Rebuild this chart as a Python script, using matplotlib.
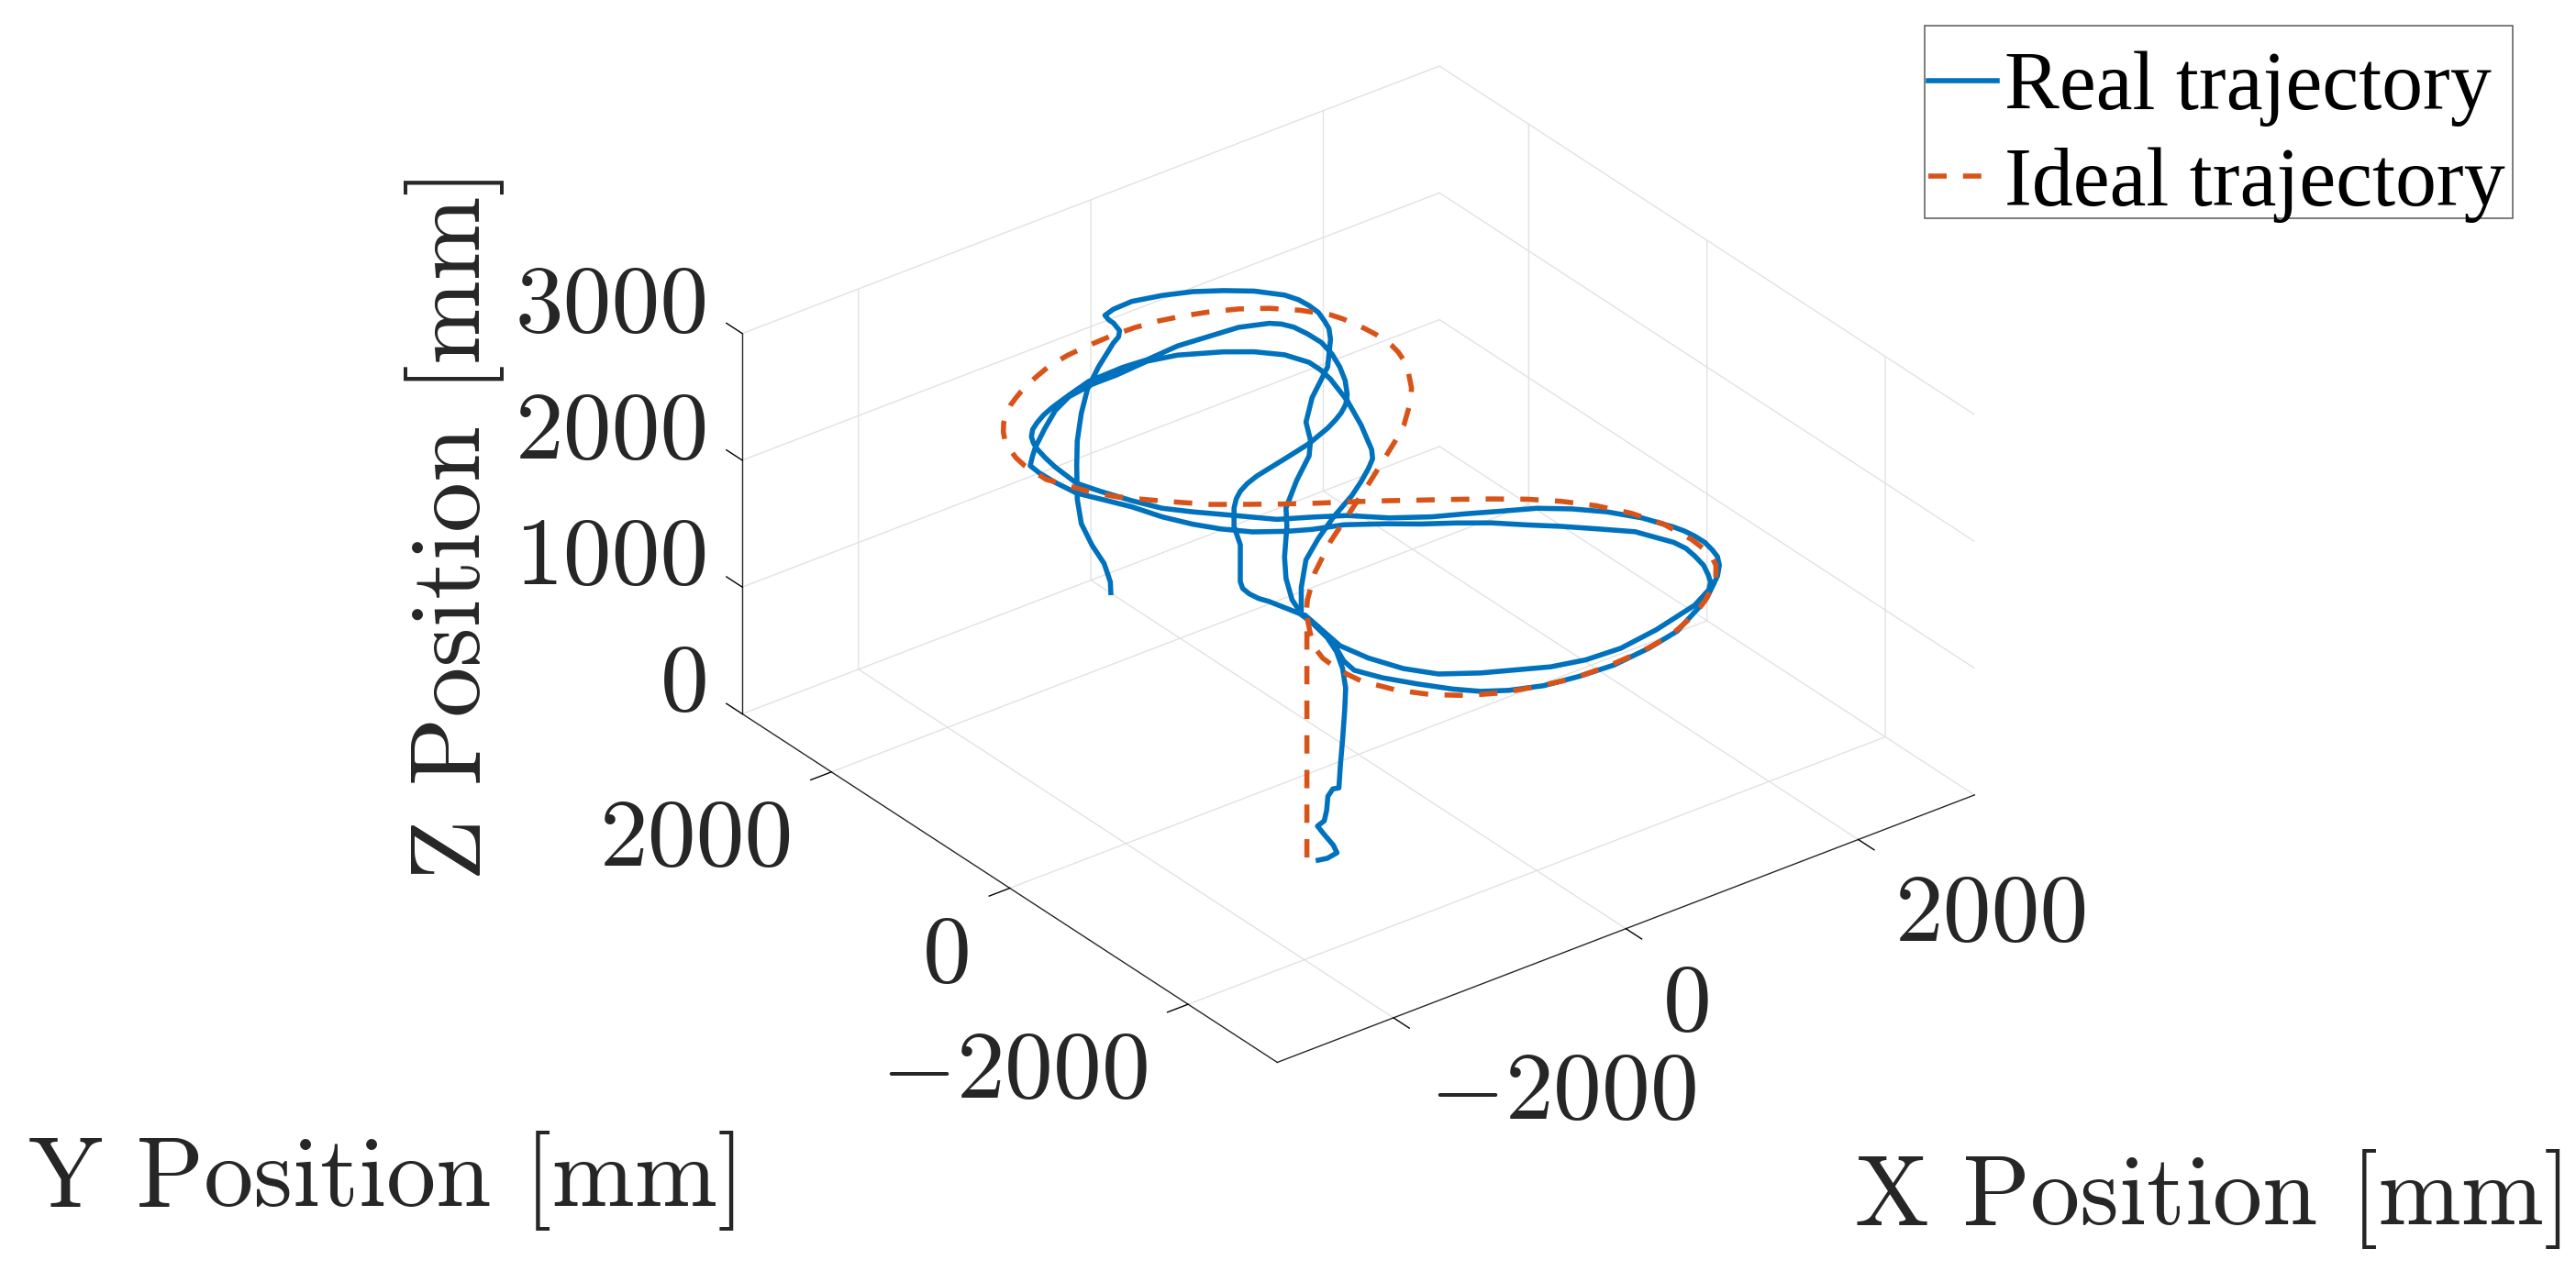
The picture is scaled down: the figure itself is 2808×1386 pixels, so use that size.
import matplotlib
matplotlib.use("Agg")
import matplotlib.pyplot as plt
from matplotlib.patches import Rectangle

plt.rcParams['font.family'] = ['cmr10', 'DejaVu Serif']
plt.rcParams['mathtext.fontset'] = 'cm'
plt.rcParams['axes.unicode_minus'] = False

# ideal trajectory: straight take-off, then the figure of eight at constant height
ideal_x = [-1136, -1136, -1259, -1358, -1396, -1403, -1397, -1377, -1263, -1111, -928, -716, -474, -220, 72, 391, 672, 984,
           1155, 1308, 1417, 1506, 1554, 1575, 1589, 1564, 1481, 1354, 1201, 1029, 841, 647, 451, 256, 57, -146, -343, -536, -727,
           -885, -1030, -1171, -1268, -1342, -1408, -1410, -1392, -1353, -1312, -1246, -1167, -1076, -986, -898, -812, -717,
           -598, -448, -260, -89, 132,
           336, 524, 698, 862, 1053, 1224, 1374, 1501, 1534, 1558, 1574, 1584, 1578, 1557, 1518, 1440, 1330, 1194, 983, 792, 561, 273,
           -56, -385, -723, -994, -1155]
ideal_y = [-903, -903, -1102, -1289, -1419, -1544, -1695, -1827, -2071, -2266, -2421, -2539, -2617, -2680, -2692, -2672, -2622, -2490,
           -2384, -2265, -2162, -2047, -1936, -1836, -1662, -1380, -1134, -906, -712, -543, -395, -253, -115, 23, 158, 289, 426, 569, 714,
           874, 1028, 1187, 1335, 1513, 1667, 1905, 2024, 2151, 2252, 2358, 2457, 2546, 2618, 2674, 2724, 2772,
           2824, 2883, 2923, 2941, 2952,
           2944, 2916, 2868, 2807, 2714, 2594, 2445, 2269, 2174, 2068, 1966, 1863, 1683, 1580, 1467, 1315, 1137, 977, 770, 625, 461, 258,
           35, -188, -456, -724, -916]
ideal_z = [0] + [1900] * (len(ideal_x) - 1)

# real trajectory: the climb first
climb_x = [-1097, -1047, -995, -1015, -1064, -1101, -1064, -1051, -1044, -1018, -985, -976, -965, -953, -948, -965,
           -998, -1047, -1114, -1172]
climb_y = [-979, -1017, -1057, -1042, -1004, -976, -1004, -1014, -1019, -1040, -1065, -1071, -1080, -1089, -1093, -1080,
           -1055, -1017, -966, -922]
climb_z = [0, 15, 58, 118, 202, 269, 310, 394, 504, 562, 570, 757, 948, 1188, 1356, 1513, 1645, 1753, 1849, 1933]

# first lap
lap1_x = [-1134, -1160, -1211, -1306, -1326, -1236, -1098, -950, -817, -657, -428, -161, 123, 454, 748, 1053,
          1190, 1308, 1426, 1525, 1586, 1614, 1636, 1634, 1620, 1595, 1500, 1360, 1194, 1010, 796, 584, 368, 131, -77, -280, -489, -669, -883,
          -1019, -1121, -1211, -1275, -1256, -1233, -1203, -1172, -1131, -1066, -986, -887, -775, -583, -360, -62, 134, 415, 657, 900, 1099,
          1159, 1200, 1218, 1222, 1183, 1118, 1033, 929, 839, 743, 647, 542, 315, 54, -236, -353, -455, -540, -628, -781, -900, -1053, -1206,
          -1250, -1259, -1247, -1215, -1150]
lap1_y = [-880, -1071, -1295, -1538, -1681, -1880, -2091, -2293, -2435, -2541, -2636, -2682, -2704, -2667, -2600, -2439,
          -2359, -2265, -2169, -2061, -1960, -1866, -1752, -1644, -1544, -1457, -1228, -1015, -837, -685, -570, -452, -340, -176, 24, 153, 274, 473, 706,
          872, 1081, 1307, 1498, 1763, 1903, 2037, 2119, 2193, 2264, 2319, 2375, 2422, 2486, 2553, 2563, 2545, 2567, 2541, 2515, 2431,
          2372, 2287, 2157, 2007, 1837, 1666, 1494, 1336, 1235, 1162, 1105, 1052, 963, 898, 829, 786, 732, 666, 576, 377, 151, -48, -247,
          -331, -418, -506, -583, -842]

# second lap
lap2_x = [-1167, -1199, -1148, -1046, -901, -664, -449, -233, 15, 302, 646, 1060, 1264, 1337, 1387, 1439, 1468, 1484, 1468, 1347, 1162,
          992, 815, 642, 451, 252, 64, -172, -383, -532, -726, -873, -986,
          -1090, -1172, -1274, -1357, -1384, -1391, -1380, -1292, -1199, -996, -785, -596, -368, -159, 122, 338, 613, 780,
          920, 990, 989, 966, 878, 750, 603, 532, 435, 278, 113, -165, -426, -671, -926, -1142]
lap2_y = [-1120, -1357, -1607, -1867, -2072, -2236, -2348, -2461, -2531, -2551, -2498, -2391, -2283, -2207, -2114, -1996, -1860, -1740, -1624,
          -1347, -1155, -983, -821, -654, -509, -374, -226, -62, 20, 102, 240, 404, 572,
          778, 1015, 1224, 1391, 1597, 1759, 1882, 1972, 2060, 2221, 2376, 2469, 2507, 2506, 2529, 2468, 2313, 2186,
          2026, 1842, 1712, 1572, 1269, 947, 637, 534, 451, 333, 221, 65, -105, -286, -566, -848]

# last part up to the end point
end_x = [-1077, -932, -762, -494, -346, -58, 212, 348, 476, 713, 1052, 1297, 1378, 1417, 1455, 1462, 1453, 1417, 1285, 1123, 949, 752,
         536, 372, 275, 258, 257, 227, 170, 92, -195, -431, -669, -920, -1127, -1404, -1586, -1706, -1793, -1912, -1999]
end_y = [-660, -403, -165, 158, 361, 616, 829, 990, 1208, 1448, 1716, 2003, 2126, 2227, 2345, 2457, 2566, 2673, 2843, 2976, 3092, 3178,
         3240, 3232, 3201, 3135, 3082, 2974, 2911, 2867, 2664, 2476, 2236, 1954, 1690, 1323, 1040, 764, 515, 290, 171]

real_x = climb_x + lap1_x + lap2_x + end_x
real_y = climb_y + lap1_y + lap2_y + end_y
real_z = climb_z + [1900] * (len(lap1_x) + len(lap2_x) + len(end_x))

xy_ticks = [-2000, 0, 2000]
z_ticks = [0, 1000, 2000, 3000]

W, H = 2808, 1386
fig = plt.figure(figsize=(W / 200, H / 200), dpi=200)
S = 1386
ax = fig.add_axes([769 / W, 59 / H, S / W, S / H], projection='3d', proj_type='ortho')
ax.view_init(elev=30, azim=-127.5)
ax.set_box_aspect((1, 1, 0.5), zoom=1.0065)

ax.plot(real_x, real_y, real_z, color='#0072BD', lw=2.0, solid_joinstyle='round', label='Real trajectory')
ax.plot(ideal_x, ideal_y, ideal_z, color='#D95319', lw=2.0, ls=(0, (3.6, 3.2)), dash_capstyle='butt',
        dash_joinstyle='round', label='Ideal trajectory')

ax.set_xlim(-3000, 3000, view_margin=0)
ax.set_ylim(-3000, 3000, view_margin=0)
ax.set_zlim(0, 3000, view_margin=0)
ax.set_xticks(xy_ticks)
ax.set_yticks(xy_ticks)
ax.set_zticks(z_ticks)
ax.set_xticklabels([])
ax.set_yticklabels([])
ax.set_zticklabels([])

for axis, out in ((ax.xaxis, -0.37), (ax.yaxis, -0.37), (ax.zaxis, 0.37)):
    axis.set_pane_color((1, 1, 1, 0))
    axis.pane.set_edgecolor('none')
    axis.line.set_color('#262626')
    axis.line.set_linewidth(0.5)
    axis._axinfo['grid'].update(color='#e2e2e2', linewidth=0.5)
    axis._axinfo['tick'].update(inward_factor=0, outward_factor=out, color='#404040', linewidth={True: 0.5, False: 0.5})
# z ticks lean along y in the original, not along x
ax.zaxis._get_tickdir = lambda pos: 1


def label(x, y, s, size=38, **kw):
    fig.text(x / W, 1 - y / H, s, color='#262626', fontsize=size, va='center', **kw)


# tick labels, MATLAB puts them at uneven offsets
for tick, y in zip(z_ticks, [749, 611, 473.5, 335.5]):
    label(773, y, str(tick), ha='right')
for s, x, y in [('2000', 865, 918), ('0', 1059, 1045), ('$-$2000', 1251, 1171)]:
    label(x, y, s, ha='right')
for s, x, y in [('$-$2000', 1558, 1194), ('0', 1813, 1098), ('2000', 2066, 1000)]:
    label(x, y, s, ha='left')

label(31, 1288, 'Y Position [mm]', size=39, ha='left')
label(2022, 1308, 'X Position [mm]', size=39, ha='left')
label(495, 572, 'Z Position [mm]', size=39.6, ha='center', rotation=90)

# legend frame is drawn apart, the box is taller than the rows need
fig.add_artist(Rectangle((2098 / W, 1 - 238 / H), 641 / W, 210 / H, transform=fig.transFigure,
                         fc='white', ec='#666666', lw=0.6))
handles, labels = ax.get_legend_handles_labels()
leg = fig.legend(handles, labels, loc='upper left', bbox_to_anchor=(2093 / W, 1 - 47 / H),
                 prop={'family': 'Liberation Serif', 'size': 32.3}, frameon=False, borderpad=0.1, borderaxespad=0,
                 handlelength=0.84, handletextpad=0.08, labelspacing=0.24)

fig.savefig('out.png', dpi=200)
